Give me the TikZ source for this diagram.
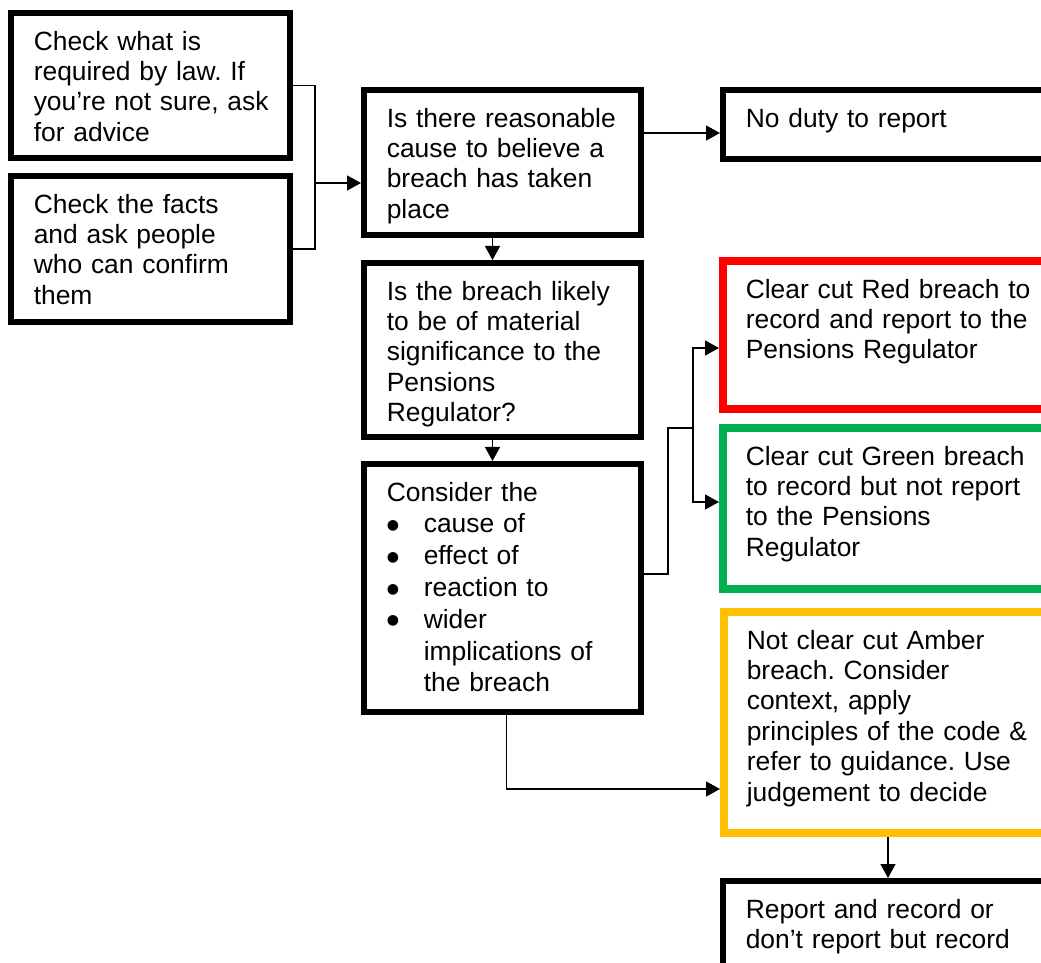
\documentclass[tikz,border=0pt]{standalone}
\usepackage{fontspec}
\setmainfont{Liberation Sans}
\newfontfamily\symfont{DejaVu Sans}
\usetikzlibrary{arrows.meta}
\definecolor{tpred}{HTML}{FF0000}
\definecolor{tpgreen}{HTML}{00B050}
\definecolor{tpamber}{HTML}{FFC000}
\newcommand\boxfont{\fontsize{13.2}{15.2}\selectfont\frenchspacing}
\newcommand\bul{\makebox[18.5pt][l]{\raisebox{1.7pt}{\symfont\fontsize{7}{7}\selectfont ●}}}
\tikzset{
  box/.style={draw=black, line width=2.8pt, anchor=north west, inner xsep=11.5pt, inner ysep=8pt,
    align=left, font=\boxfont, text height=10.64pt},
  colbox/.style={box, draw=#1, line width=3.8pt},
  link/.style={line width=0.7pt},
  arr/.style={link, -{Triangle[length=7pt,width=7.5pt]}}
}

\begin{document}
\begin{tikzpicture}[x=0.5pt, y=-0.5pt]
  %%%%% START %%%%%
  \useasboundingbox (0,0) rectangle (1041,963);
  \clip (0,0) rectangle (1041,963);

  % left column
  \node[box, text width=116.7pt, text depth=46.06pt] (law) at (8,10)
    {Check what is\\ required by law. If\\ \mbox{you’re not sure, ask}\\ for advice};
  \node[box, text width=116.7pt, text depth=46.56pt] (facts) at (8,173)
    {Check the facts\\ and ask people\\ who can confirm\\ them};

  % middle column
  \node[box, text width=115.7pt, text depth=46.06pt] (cause) at (361,87)
    {Is there reasonable\\ cause to believe a\\ breach has taken\\ place};
  \node[box, text width=115.7pt, text depth=60.56pt] (material) at (361,260)
    {Is the breach likely\\ to be of material\\ significance to the\\ Pensions\\ Regulator?};
  \node[box, text width=115.7pt, text depth=97.56pt, font=\fontsize{13.2}{15.9}\selectfont] (consider) at (361,461)
    {Consider the\\ \bul cause of\\ \bul effect of\\ \bul reaction to\\ \bul wider\\
     \hspace*{18.5pt}implications of\\ \hspace*{18.5pt}the breach};

  % right column
  \node[box, text width=149.2pt, text depth=8.06pt] (noduty) at (720,87) {No duty to report};
  \node[colbox=tpred, text width=148.7pt, text depth=47.56pt] (red) at (719,257)
    {Clear cut Red breach to\\ record and report to the\\ Pensions Regulator};
  \node[colbox=tpgreen, text width=148.7pt, text depth=54.06pt] (green) at (719,424)
    {Clear cut Green breach\\ to record but not report\\ to the Pensions\\ Regulator};
  \node[colbox=tpamber, text width=148.2pt, text depth=84.06pt] (amber) at (720,608)
    {Not clear cut Amber\\ breach. Consider\\ context, apply\\ principles of the code \&\\ refer to guidance. Use\\ judgement to decide};
  \node[box, text width=149.2pt, text depth=36.56pt] (record) at (720,878)
    {Report and record or\\ don’t report but record};

  % connectors
  \coordinate (join) at (315,183);
  \draw[link] (law.east) -| (join) |- (facts.east);
  \draw[arr] (join) -- (join -| cause.west);
  \draw[arr] (cause.east |- 0,133) -- (noduty.west |- 0,133);
  \draw[arr] ([xshift=-5pt]cause.south) -- ([xshift=-5pt]material.north);
  \draw[arr] ([xshift=-5pt]material.south) -- ([xshift=-5pt]consider.north);

  \coordinate (fork) at (693,428);
  \draw[link] ([yshift=7pt]consider.east) -- ++(24,0) |- (fork);
  \draw[arr] (fork) |- (red.west |- 0,348);
  \draw[arr] (fork) |- (green.west |- 0,502);
  \draw[arr] ([xshift=2pt]consider.south) |- (amber.west |- 0,789);
  \draw[arr] ([xshift=-3.5pt]amber.south) -- ([xshift=-3.5pt]record.north);
  %%%%% END %%%%%
\end{tikzpicture}
\end{document}
